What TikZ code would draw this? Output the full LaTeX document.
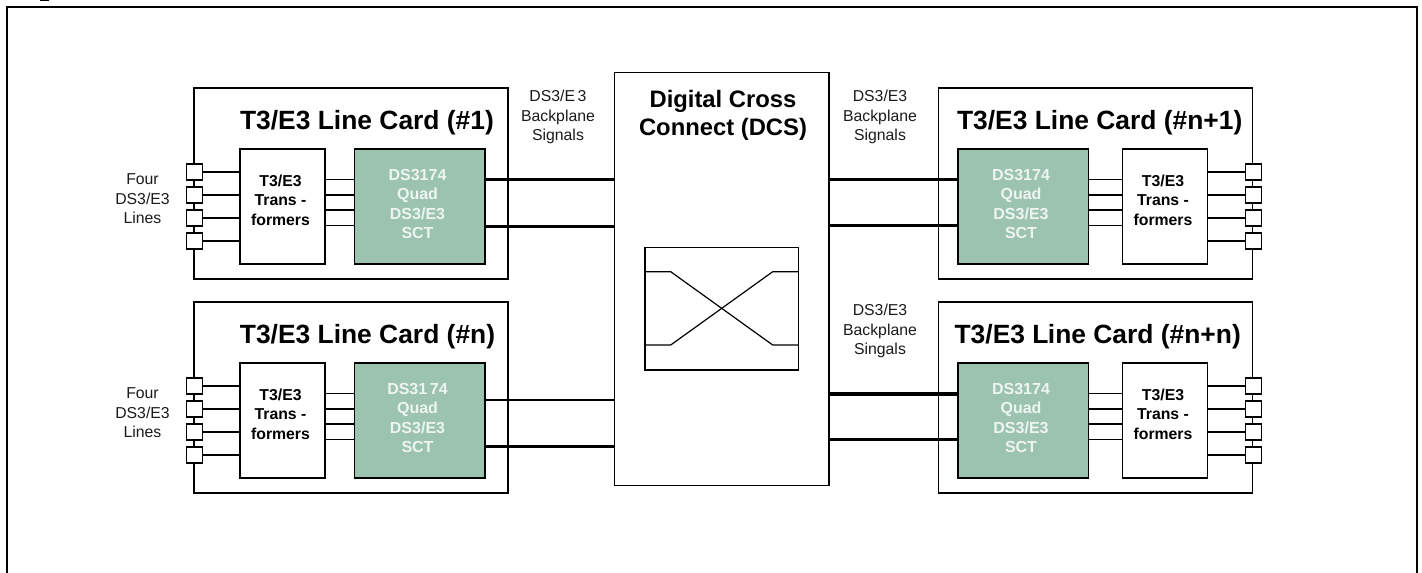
\documentclass[tikz,border=0pt]{standalone}
\usepackage{fontspec}
\setmainfont{Liberation Sans}
\definecolor{chipgreen}{HTML}{9CC3AF}
\definecolor{chiptext}{HTML}{EEF5F1}
\definecolor{labeltext}{HTML}{1A1A1A}
\tikzset{
  x=1pt,y=-1pt,
  boxline/.style={draw=black,line width=1.3pt,inner sep=0pt,outer sep=0pt,anchor=north west},
  cardbox/.style={boxline,fill=white,minimum width=314pt,minimum height=191pt},
  transbox/.style={boxline,fill=white,minimum width=85pt,minimum height=115pt},
  chipbox/.style={boxline,fill=chipgreen,minimum width=130.5pt,minimum height=115pt},
  portbox/.style={draw=black,line width=1.3pt,fill=white,inner sep=0pt,outer sep=0pt,minimum size=16pt,anchor=center},
  wire/.style={draw=black,line width=1.3pt},
  bus/.style={draw=black,line width=3pt},
  titletext/.style={font=\bfseries\fontsize{26.4}{28}\selectfont,anchor=base,inner sep=0pt},
  dcstext/.style={font=\bfseries\fontsize{23.8}{27.7}\selectfont,align=center,inner sep=0pt},
  labeltxt/.style={font=\fontsize{15.8}{19.5}\selectfont,align=center,inner sep=0pt,text=labeltext},
  transtext/.style={font=\bfseries\fontsize{15.8}{19.5}\selectfont,align=center,inner sep=0pt},
  chiptxt/.style={font=\bfseries\fontsize{16}{19.2}\selectfont,align=center,inner sep=0pt,text=chiptext},
}
% #1 prefix, #2 card x, #3 card y, #4 title centre x, #5 title, #6 chip text, #7 trans x, #8 chip x, #9 port x
% \transOuter = side of the transformer box facing the ports, \transInner = side facing the chip, \chipInner = side of the chip facing the transformer
\newcommand{\linecard}[9]{%
  \node[cardbox] (#1card) at (#2,#3) {};
  \node[titletext] (#1title) at (#4,#3+41.5) {#5};
  \node[transbox] (#1trans) at (#7,#3+61) {};
  \node[transtext] (#1transtxt) at (#7+40.5,#3+112) {T3/E3\\Trans -\\formers};
  \node[chipbox] (#1chip) at (#8,#3+61) {};
  \node[chiptxt] (#1chiptxt) at (#8+63,#3+116) {#6};
  \foreach \i/\py/\cy in {1/84/91.5,2/107/107,3/130/122,4/153/137.5}{
    \coordinate (#1c\i) at (#8,#3+\cy);
    \draw[wire] (#9,#3+\py) -- (#1trans.\transOuter |- 0,#3+\py);
    \draw[wire] (#1chip.\chipInner |- #1c\i) -- (#1trans.\transInner |- #1c\i);
    \node[portbox] (#1port\i) at (#9,#3+\py) {};
  }
}
\begin{document}
\begin{tikzpicture}
\useasboundingbox (0,0) rectangle (1422,573);
\fill[black] (40,0) rectangle (49,1);
\draw[draw=black,line width=2pt] (7,573) -- (7,6.5) -- (1417,6.5) -- (1417,573);

\node[boxline,fill=white,minimum width=214.5pt,minimum height=413pt] (dcs) at (614.5,72.7) {};
\node[dcstext] (dcstxt) at (723,115.5) {Digital Cross\\Connect (DCS)};
\node[boxline,minimum width=153.3pt,minimum height=122.7pt] (xbox) at (645,247.3) {};
\coordinate (xtl) at (670.7,271.7);
\coordinate (xbl) at (670.7,345);
\coordinate (xtr) at (772.7,271.7);
\coordinate (xbr) at (772.7,345);
\draw[wire,line width=1.2pt] (xbox.west |- xtl) -- (xtl) -- (xbr) -- (xbox.east |- xbr);
\draw[wire,line width=1.2pt] (xbox.west |- xbl) -- (xbl) -- (xtr) -- (xbox.east |- xtr);

\def\transOuter{west}\def\transInner{east}\def\chipInner{west}
\linecard{a}{194}{88}{367}{T3/E3 Line Card (\#1)}{DS3174\\Quad\\DS3/E3\\SCT}{240}{354.5}{194.5}
\linecard{b}{194}{302}{367.5}{T3/E3 Line Card (\#n)}{DS31\,74\\Quad\\DS3/E3\\SCT}{240}{354.5}{194.5}
\def\transOuter{east}\def\transInner{west}\def\chipInner{east}
\linecard{c}{938.7}{88}{1099.7}{T3/E3 Line Card (\#n+1)}{DS3174\\Quad\\DS3/E3\\SCT}{1122.5}{958}{1253.5}
\linecard{d}{938.7}{302}{1097.7}{T3/E3 L\kern-0.6pt ine Card (\#n+n)}{DS3174\\Quad\\DS3/E3\\SCT}{1122.5}{958}{1253.5}

\node[labeltxt] (l1) at (142.5,199) {Four\\DS3/E3\\Lines};
\node[labeltxt] (l2) at (142.5,413) {Four\\DS3/E3\\Lines};
\node[labeltxt] (l3) at (558,117) {DS3/E\,3\\Backplane\\Signals};
\node[labeltxt] (l4) at (880,117) {DS3/E3\\Backplane\\Signals};
\node[labeltxt] (l5) at (880,331) {DS3/E3\\Backplane\\Singals};

\draw[bus] (achip.east |- 0,179) -- (dcs.west |- 0,179);
\draw[bus] (achip.east |- 0,226) -- (dcs.west |- 0,226);
\draw[bus,line width=2.7pt] (bchip.east |- 0,400) -- (dcs.west |- 0,400);
\draw[bus,line width=2.7pt] (bchip.east |- 0,446.3) -- (dcs.west |- 0,446.3);
\draw[bus] (dcs.east |- 0,179) -- (cchip.west |- 0,179);
\draw[bus,line width=3.4pt] (dcs.east |- 0,225.7) -- (cchip.west |- 0,225.7);
\draw[bus,line width=3.8pt] (dcs.east |- 0,394) -- (dchip.west |- 0,394);
\draw[bus] (dcs.east |- 0,439.3) -- (dchip.west |- 0,439.3);
\end{tikzpicture}
\end{document}
